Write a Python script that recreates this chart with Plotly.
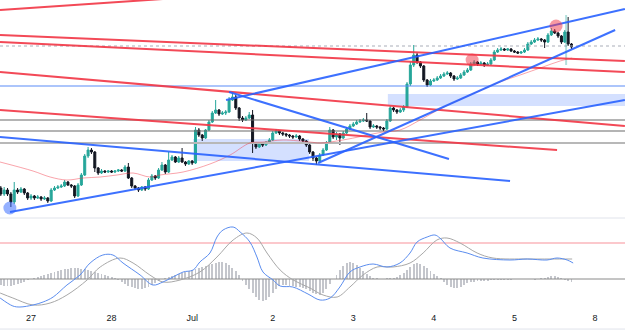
import plotly.graph_objects as go

# ---------------- data ----------------
tick_vals = [9, 33, 57, 81, 105, 129, 153, 177]
tick_text = ["27", "28", "Jul", "2", "3", "4", "5", "8"]

first_open = 30
close = [24, 28, 24, 16, 28, 26, 29, 25, 20, 22, 20, 21, 19, 20, 17, 28, 30, 31, 32, 36,
         33, 32, 22, 33, 43, 62, 68, 66, 50, 45, 47, 46, 47, 46, 47, 48, 47, 51, 40, 32,
         30, 28, 31, 29, 38, 42, 40, 48, 53, 46, 58, 61, 56, 60, 56, 54, 57, 55, 88, 83,
         80, 88, 96, 105, 108, 104, 105, 106, 118, 121, 110, 100, 98, 100, 103, 75, 71, 74, 73, 75,
         78, 85, 87, 85, 84, 83, 82, 81, 82, 79, 77, 73, 66, 60, 57, 63, 68, 75, 88, 81,
         84, 80, 85, 89, 92, 94, 96, 97, 98, 97, 91, 92, 91, 90, 89, 97, 110, 108, 106, 108,
         111, 134, 153, 163, 156, 152, 138, 133, 137, 138, 140, 142, 144, 145, 142, 139, 140, 143, 146, 148,
         154, 156, 154, 155, 153, 154, 158, 166, 168, 169, 168, 169, 167, 166, 165, 166, 168, 174, 176, 178,
         179, 178, 176, 183, 187, 185, 182, 176, 186, 174, 171]
high = [32, 31, 30, 26, 36, 30, 31, 30, 26, 24, 23, 23, 22, 22, 21, 30, 32, 33, 34, 38,
        37, 34, 33, 35, 45, 64, 71, 70, 67, 51, 49, 48, 48, 48, 48, 49, 49, 53, 55, 41,
        33, 31, 32, 32, 40, 44, 43, 50, 56, 54, 66, 63, 62, 62, 70, 57, 58, 58, 91, 90,
        84, 89, 98, 107, 118, 109, 107, 108, 121, 126, 123, 111, 102, 102, 106, 108, 76, 76, 75, 77,
        80, 87, 89, 88, 86, 85, 84, 83, 84, 83, 80, 78, 74, 67, 61, 65, 70, 77, 91, 89,
        86, 85, 87, 91, 94, 96, 98, 99, 100, 105, 98, 94, 93, 92, 91, 99, 112, 111, 109, 110,
        113, 136, 156, 173, 165, 157, 153, 139, 139, 140, 142, 144, 146, 147, 146, 143, 142, 145, 148, 150,
        156, 158, 157, 157, 156, 156, 160, 168, 170, 171, 170, 170, 170, 168, 167, 167, 170, 176, 178, 180,
        181, 180, 179, 185, 190, 189, 186, 183, 188, 201, 175]
low = [22, 22, 22, 11, 14, 24, 25, 23, 18, 18, 18, 19, 17, 18, 15, 16, 27, 29, 30, 31,
       32, 30, 20, 21, 32, 42, 60, 64, 46, 43, 44, 45, 45, 45, 45, 46, 46, 46, 39, 30,
       28, 26, 27, 27, 28, 37, 38, 39, 47, 44, 45, 57, 55, 55, 55, 52, 53, 53, 54, 81,
       77, 79, 87, 95, 104, 102, 103, 103, 105, 117, 108, 97, 96, 97, 99, 65, 69, 70, 71, 72,
       74, 77, 84, 83, 82, 81, 80, 79, 80, 77, 75, 71, 64, 57, 53, 55, 62, 67, 74, 79,
       78, 73, 79, 84, 88, 91, 93, 95, 96, 96, 89, 90, 89, 88, 87, 88, 96, 106, 104, 105,
       106, 110, 132, 151, 154, 150, 136, 131, 132, 136, 137, 139, 141, 143, 140, 137, 138, 139, 142, 145,
       147, 153, 152, 153, 151, 152, 153, 157, 165, 167, 167, 167, 166, 165, 164, 164, 165, 167, 173, 175,
       177, 176, 170, 175, 182, 184, 180, 174, 175, 172, 169]

# moving average (light red) samples: (candle index, price)
ma_x = [-0.24, 9.6, 14.7, 19.7, 24.5, 29.6, 34.6, 39.4, 44.4, 47.4, 54.3, 62.3, 68.3, 74.2, 78.1,
        84.1, 92.1, 95.1, 101.9, 113.9, 118.9, 124.9, 130.8, 139.8, 148.7, 154.7, 161.5, 166.6, 170.2]
ma_y = [56, 47, 41, 38, 40, 41, 43, 45, 41, 43, 46, 54, 63, 75, 76,
        78, 76, 75, 78, 86, 88, 98, 109, 123, 136, 143, 151, 157, 160]

# trend lines: (x0, y0, x1, y1)
red_lines = [(-0.24, 208, 59.3, 221.5),
             (-0.24, 183, 185.9, 157),
             (-0.24, 176, 185.9, 146),
             (-0.24, 146, 185.9, 92),
             (-0.24, 108, 165.7, 68)]
blue_lines = [(2.74, 6, 185.9, 118),
              (94.5, 55, 183.0, 188),
              (67.1, 118, 185.9, 209),
              (68.0, 126, 133.5, 59),
              (-0.24, 81, 151.7, 37)]

# horizontal levels
level_dotted = 172
level_blue = 132
levels_dark = [98, 87]
level_light = 75

# zones: (x0, x1, y0, y1)
zones = [(57.3, 91.8, 57, 79), (115.3, 186.5, 112, 124)]

# markers
red_pts_x = [165.4, 140.4]
red_pts_y = [192, 158]
blue_pts_x = [2.7]
blue_pts_y = [10]
flag_x = 168.4
flag_y = (153, 203)

# MACD panel
macd_x = [-0.2, 3.6, 5.7, 9.6, 12.6, 15.6, 19.7, 23.6, 26.6, 30.4, 33.4, 36.4, 41.5, 45.3, 48.3,
          51.3, 54.3, 57.3, 59.3, 62.3, 64.4, 66.2, 69.2, 71.3, 74.2, 76.3, 78.1, 81.1, 83.2, 87.0,
          91.5, 95.1, 98.1, 101.0, 104.0, 107.0, 110.9, 115.0, 118.9, 121.9, 124.0, 127.0, 129.3,
          130.8, 133.8, 138.9, 143.6, 151.7, 156.8, 162.7, 165.7, 168.7, 170.5]
macd_y = [-19, -27, -28, -26, -23, -18, -6, 4, 16, 24, 24, 16, 4, -6, -3,
          2, 7, 9, 17, 26, 42, 49, 52, 47, 37, 22, 7, -1, -7, -8,
          -15, -21, -19, -8, 7, 12, 15, 12, 16, 26, 37, 42, 44,
          41, 31, 26, 21, 19, 20, 19, 21, 19, 16]
sig_x = [-0.2, 3.6, 9.6, 14.7, 19.7, 25.7, 29.6, 35.5, 39.4, 44.4, 48.3, 53.4, 59.3, 64.4, 69.2,
         73.3, 76.3, 79.3, 83.2, 87.1, 92.1, 96.0, 100.2, 104.0, 107.9, 112.1, 116.8, 121.9, 125.8,
         129.9, 132.9, 136.8, 141.9, 146.6, 156.8, 163.6, 170.2]
sig_y = [-14, -19, -26, -24, -16, -1, 12, 21, 16, 4, -3, -1, 7, 22, 39,
         46, 41, 26, 9, -1, -9, -16, -18, -8, 4, 12, 12, 16, 26,
         39, 41, 36, 26, 21, 20, 20, 20]
hist = [-6, -7, -7, -7, -6, -5, -4, -3, -1, 0, 1, 2, 3, 4, 5, 6, 7, 8, 9, 10,
        10, 11, 11, 11, 10, 10, 9, 8, 7, 6, 5, 4, 3, 2, 1, -1, -3, -5, -7, -8,
        -9, -10, -10, -9, -8, -6, -4, -2, 0, 1, 2, 3, 4, 5, 6, 7, 8, 9, 10, 11,
        12, 13, 14, 15, 16, 17, 17, 16, 14, 11, 8, 4, -2, -6, -10, -14, -18, -21, -22, -21,
        -18, -14, -10, -7, -6, -6, -7, -7, -8, -8, -9, -10, -12, -14, -15, -16, -14, -10, -5, 0,
        4, 9, 13, 16, 17, 16, 14, 11, 8, 5, 3, 1, 1, 0, 0, 1, 1, 1, 2, 4,
        6, 9, 12, 15, 16, 15, 13, 11, 8, 5, 3, 1, -3, -6, -8, -9, -9, -8, -6, -4,
        -3, -3, -2, -2, -2, -2, -1, -1, -1, -1, -1, -1, -1, 0, 0, 0, 0, 0, 0, -1,
        0, 1, 1, 2, 3, 3, 2, 1, -1, -2, -3]
macd_level = 36

# ---------------- styles ----------------
RED = "#f23645"
BLUE = "#2962ff"
UP = "#26a69a"
DOWN = "#131722"
X_RANGE = [-0.24, 185.94]

idx = list(range(len(close)))
opens = [first_open] + close[:-1]

fig = go.Figure()

# zones
for (x0, x1, y0, y1) in zones:
    fig.add_shape(type="rect", xref="x", yref="y", x0=x0, x1=x1, y0=y0, y1=y1,
                  fillcolor="rgba(41,98,255,0.2)", line_width=0, layer="below")

# horizontal levels
def hline(y, color, width, dash="solid", yref="y"):
    fig.add_trace(go.Scatter(x=X_RANGE, y=[y, y], mode="lines", yaxis=yref,
                             line=dict(color=color, width=width, dash=dash),
                             hoverinfo="skip", showlegend=False))

hline(level_dotted, "#a9adb8", 1, "dot")
hline(level_blue, "#5b8bf7", 1.2)
for lv in levels_dark:
    hline(lv, "#6b6b6b", 1.2)
hline(level_light, "#b8b8b8", 2)

# moving average
fig.add_trace(go.Scatter(x=ma_x, y=ma_y, mode="lines", line=dict(color="rgba(242,54,69,0.45)", width=1, shape="spline"),
                         hoverinfo="skip", showlegend=False))

# candles
fig.add_trace(go.Candlestick(x=idx, open=opens, high=high, low=low, close=close,
                             increasing=dict(line=dict(color=UP, width=1), fillcolor=UP),
                             decreasing=dict(line=dict(color=DOWN, width=1), fillcolor=DOWN),
                             whiskerwidth=0, showlegend=False, hoverinfo="skip"))

# flag vertical
fig.add_trace(go.Scatter(x=[flag_x, flag_x], y=list(flag_y), mode="lines",
                         line=dict(color="rgba(38,166,154,0.35)", width=2), hoverinfo="skip", showlegend=False))

# trend lines
for (x0, y0, x1, y1) in red_lines:
    fig.add_trace(go.Scatter(x=[x0, x1], y=[y0, y1], mode="lines", line=dict(color=RED, width=2),
                             opacity=0.9, hoverinfo="skip", showlegend=False))
for (x0, y0, x1, y1) in blue_lines:
    fig.add_trace(go.Scatter(x=[x0, x1], y=[y0, y1], mode="lines", line=dict(color=BLUE, width=2),
                             opacity=0.9, hoverinfo="skip", showlegend=False))

# circles
fig.add_trace(go.Scatter(x=red_pts_x, y=red_pts_y, mode="markers",
                         marker=dict(size=13, color="rgba(242,54,69,0.5)", line_width=0),
                         hoverinfo="skip", showlegend=False))
fig.add_trace(go.Scatter(x=blue_pts_x, y=blue_pts_y, mode="markers",
                         marker=dict(size=13, color="rgba(41,98,255,0.5)", line_width=0),
                         hoverinfo="skip", showlegend=False))

# MACD panel
fig.add_trace(go.Bar(x=idx, y=hist, yaxis="y2", marker=dict(color="#c4c6cc", line_width=0),
                     width=0.28, hoverinfo="skip", showlegend=False))
hline(0, "#8a8a8a", 1, yref="y2")
hline(macd_level, "rgba(242,54,69,0.55)", 1, yref="y2")
fig.add_trace(go.Scatter(x=sig_x, y=sig_y, yaxis="y2", mode="lines",
                         line=dict(color="#a8a8a8", width=1, shape="spline"), hoverinfo="skip", showlegend=False))
fig.add_trace(go.Scatter(x=macd_x, y=macd_y, yaxis="y2", mode="lines",
                         line=dict(color="#5b8def", width=1, shape="spline"), hoverinfo="skip", showlegend=False))

# separators
fig.add_shape(type="line", xref="paper", yref="paper", x0=0, x1=1, y0=0.299, y1=0.299,
              line=dict(color="#e0e3eb", width=1))
fig.add_shape(type="line", xref="paper", yref="paper", x0=0, x1=1, y0=-0.058, y1=-0.058,
              line=dict(color="#e0e3eb", width=1))

fig.update_layout(
    width=625, height=331,
    margin=dict(l=0, r=0, t=0, b=20),
    paper_bgcolor="white", plot_bgcolor="white",
    showlegend=False, bargap=0, boxgap=0.15,
    xaxis=dict(range=X_RANGE, tickvals=tick_vals, ticktext=tick_text, showgrid=False, zeroline=False,
               showline=False, ticks="", anchor="y2", rangeslider=dict(visible=False),
               tickfont=dict(family="Liberation Sans, Arial", size=9, color="#131722")),
    yaxis=dict(domain=[0.299, 1], range=[0, 218], showgrid=False, zeroline=False, showticklabels=False,
               fixedrange=True),
    yaxis2=dict(domain=[0, 0.2926], range=[-32, 59], showgrid=False, zeroline=False, showticklabels=False),
)

fig.write_html("out.html")
